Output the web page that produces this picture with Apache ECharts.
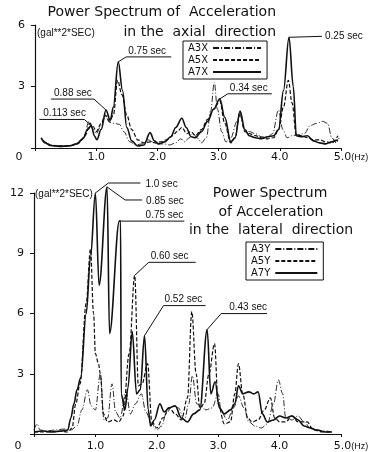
<!DOCTYPE html>
<html>
<head>
<meta charset="utf-8">
<script src="https://cdn.jsdelivr.net/npm/echarts@6/dist/echarts.min.js"></script>
<style>
  html, body { margin: 0; padding: 0; background: #fff; }
  #c { width: 373px; height: 452px; }
</style>
</head>
<body>
<div id="c"></div>
<script>
// ---- Axial direction (upper panel): frequency [Hz] and power [gal**2*SEC] ----
const freqA3X = [0.15,0.25,0.4,0.55,0.7,0.8,0.88,0.95,1.0,1.08,1.15,1.22,1.3,1.38,1.45,1.55,1.65,1.75,1.85,1.92,2.0,2.1,2.2,2.3,2.38,2.45,2.52,2.58,2.65,2.72,2.8,2.87,2.93,2.98,3.05,3.12,3.2,3.3,3.35,3.42,3.5,3.6,3.7,3.8,3.88,3.98,4.05,4.12,4.2,4.3,4.4,4.5,4.6,4.7,4.78,4.85,4.92,4.97];
const valA3X  = [0.35,0.15,0.1,0.1,0.2,0.5,1.3,0.9,0.7,1.1,1.55,1.25,1.2,1.15,0.8,0.3,0.15,0.2,0.4,0.3,0.2,0.2,0.15,0.25,0.45,0.3,0.5,0.7,0.5,0.25,0.5,1.8,3.2,1.9,0.8,0.3,0.5,1.3,1.6,0.9,0.8,0.7,0.55,0.5,0.7,1.85,0.9,0.5,0.6,0.65,0.7,1.1,1.2,1.3,1.2,0.5,0.25,0.5];

const freqA5X = [0.12,0.2,0.3,0.45,0.6,0.72,0.82,0.9,0.95,1.0,1.08,1.15,1.22,1.28,1.35,1.42,1.5,1.58,1.68,1.78,1.88,1.96,2.05,2.15,2.25,2.32,2.4,2.48,2.55,2.62,2.72,2.82,2.92,3.02,3.1,3.2,3.27,3.35,3.43,3.5,3.6,3.7,3.8,3.9,3.98,4.06,4.14,4.2,4.27,4.35,4.45,4.55,4.65,4.75,4.85,4.95];
const valA5X  = [0.4,0.2,0.12,0.1,0.12,0.25,0.6,1.2,1.05,0.8,1.2,1.6,1.3,1.6,3.3,2.6,1.6,0.9,0.4,0.25,0.3,0.25,0.3,0.4,0.6,0.8,1.0,0.7,0.8,0.6,0.9,1.4,1.9,2.3,1.2,0.25,0.5,1.75,0.8,0.7,0.6,0.5,0.45,0.5,0.9,2.0,3.3,2.2,0.6,0.6,0.5,0.4,0.4,0.3,0.25,0.6];

const freqA7X = [0.10,0.17,0.25,0.4,0.55,0.68,0.78,0.86,0.92,0.97,1.01,1.08,1.16,1.23,1.28,1.36,1.43,1.5,1.58,1.68,1.78,1.88,1.95,2.02,2.12,2.22,2.3,2.4,2.47,2.55,2.62,2.72,2.82,2.92,3.02,3.1,3.2,3.27,3.35,3.43,3.5,3.6,3.7,3.8,3.9,3.98,4.06,4.15,4.22,4.27,4.35,4.45,4.55,4.65,4.75,4.85,4.95];
const valA7X  = [0.5,0.25,0.12,0.08,0.1,0.2,0.45,0.9,1.1,0.6,0.4,0.9,1.85,1.35,2.0,4.2,2.8,1.0,0.35,0.1,0.15,0.75,0.35,0.2,0.3,0.55,1.0,1.45,1.0,0.55,0.5,0.8,1.3,1.9,2.4,1.5,0.3,0.5,1.8,0.9,0.6,0.5,0.45,0.55,0.6,0.9,2.8,5.4,3.0,0.6,0.55,0.6,0.35,0.25,0.2,0.3,0.4];

// ---- Lateral direction (lower panel) ----
const freqA3Y = [0.0,0.05,0.1,0.2,0.35,0.5,0.6,0.7,0.78,0.87,0.93,1.0,1.08,1.14,1.2,1.27,1.33,1.4,1.5,1.57,1.65,1.75,1.82,1.92,2.0,2.08,2.15,2.25,2.35,2.45,2.52,2.58,2.65,2.72,2.8,2.9,3.0,3.05,3.15,3.25,3.33,3.42,3.5,3.6,3.7,3.8,3.9,3.98,4.05,4.1,4.2,4.3,4.4,4.5,4.6,4.75,4.85];
const valA3Y  = [0.2,0.5,0.2,0.15,0.2,0.25,0.2,0.4,1.2,2.2,1.4,1.2,3.0,0.7,0.8,2.5,1.1,0.8,2.1,1.0,1.5,2.0,1.1,0.5,0.2,0.4,1.0,1.4,1.3,0.7,1.5,2.9,1.5,1.4,1.2,1.3,2.0,1.1,0.7,1.3,1.9,1.3,0.6,0.4,0.3,0.5,1.5,2.7,2.0,0.8,0.7,0.9,0.6,0.3,0.2,0.15,0.1];

const freqA5Y = [0.0,0.2,0.4,0.55,0.62,0.68,0.75,0.85,0.92,0.97,1.0,1.05,1.08,1.13,1.2,1.3,1.38,1.45,1.55,1.64,1.7,1.76,1.85,1.92,2.0,2.1,2.2,2.3,2.4,2.5,2.57,2.64,2.7,2.77,2.85,2.94,3.0,3.1,3.2,3.27,3.33,3.4,3.48,3.55,3.65,3.75,3.85,3.92,4.0,4.1,4.2,4.3,4.45,4.55,4.7,4.85];
const valA5Y  = [0.1,0.1,0.15,0.1,0.3,1.5,2.5,6.5,9.2,6.0,4.0,3.5,3.0,1.0,0.6,0.7,0.6,0.9,4.0,7.9,2.4,2.5,3.5,0.6,0.3,0.8,1.3,1.0,0.7,1.8,6.1,3.0,1.3,1.5,3.0,4.5,1.5,0.5,0.6,2.0,3.5,2.0,0.8,0.6,0.7,1.2,1.8,0.8,0.6,0.6,0.9,0.6,0.6,0.2,0.1,0.1];

const freqA7Y = [0.0,0.15,0.3,0.45,0.55,0.6,0.65,0.7,0.76,0.85,0.92,1.0,1.06,1.19,1.23,1.39,1.41,1.42,1.48,1.53,1.6,1.67,1.73,1.8,1.86,1.9,1.96,2.05,2.12,2.2,2.3,2.4,2.5,2.6,2.7,2.82,2.88,2.95,3.02,3.1,3.2,3.27,3.33,3.4,3.5,3.58,3.65,3.72,3.8,3.9,4.0,4.1,4.2,4.3,4.4,4.5,4.6,4.75,4.85];
const valA7Y  = [0.1,0.15,0.1,0.15,0.2,0.8,1.5,2.2,2.8,6.0,8.8,12.0,7.4,12.3,5.0,10.6,10.6,2.0,1.2,2.3,5.1,2.0,2.2,4.9,1.2,0.4,0.7,1.5,1.1,1.3,1.4,0.8,0.6,1.0,1.2,5.2,2.0,2.6,1.3,1.0,1.2,1.5,2.4,2.0,2.1,2.0,2.1,1.0,0.6,0.7,0.9,0.8,0.9,0.7,0.4,0.3,0.2,0.1,0.1];

// axis ticks
const freqTicks = [0, 1, 2, 3, 4, 5];
const axialMax = 6, lateralMax = 12, powerStep = 3;

const FONT = '"Liberation Sans", Arial, sans-serif';
const WIDE = '"DejaVu Sans", sans-serif';
const INK = '#111';

const pairs = (f, v) => f.map((x, i) => [x, v[i]]);
const peak = (f, v, at) => [at, v[f.indexOf(at)]];

const lineKinds = {
  A3: { type: [6, 2, 1, 2], width: 0.9 },
  A5: { type: [4, 2], width: 1.2 },
  A7: { type: 'solid', width: 1.6 }
};

function series(name, kind, f, v, g) {
  const k = lineKinds[kind];
  return {
    name, type: 'line', xAxisIndex: g, yAxisIndex: g,
    data: pairs(f, v), symbol: 'none', showSymbol: false,
    smooth: 0.35, smoothMonotone: 'x', clip: false, animation: false,
    itemStyle: { color: INK },
    lineStyle: { color: INK, width: k.width, type: k.type }
  };
}

function xAxis(g, margin) {
  return {
    type: 'value', gridIndex: g, min: 0, max: 5, interval: 1,
    axisLine: { lineStyle: { color: INK, width: 1.2 } },
    axisTick: { length: 3, lineStyle: { color: INK } },
    splitLine: { show: false },
    axisLabel: {
      margin, color: INK, fontSize: 11, fontFamily: WIDE,
      customValues: freqTicks,
      formatter: v => v === 0 ? '{z|0}' : v === 5 ? '{n|5.0}{u|(Hz)}' : v.toFixed(1),
      rich: {
        z: { padding: [0, 32, 0, 0], fontSize: 11, fontFamily: WIDE, color: INK },
        n: { padding: [0, 0, 0, 20], fontSize: 11, fontFamily: WIDE, color: INK },
        u: { fontSize: 9, fontFamily: FONT, color: INK }
      }
    }
  };
}

function yAxis(g, max) {
  return {
    type: 'value', gridIndex: g, min: 0, max, interval: powerStep,
    axisLine: { show: true, lineStyle: { color: INK, width: 1.2 } },
    axisTick: { show: true, length: 4, lineStyle: { color: INK } },
    splitLine: { show: false },
    axisLabel: { margin: 10, color: INK, fontSize: 11, fontFamily: WIDE,
                 formatter: v => v === 0 ? '' : String(v) }
  };
}

function legend(names, left, top, iconW, textW) {
  return {
    data: names, orient: 'vertical', left, top, align: 'right',
    itemWidth: iconW, itemHeight: 10, itemGap: 2,
    padding: [2, 5, 2, 5], borderColor: INK, borderWidth: 1,
    itemStyle: { opacity: 0, borderWidth: 0 },
    textStyle: { fontSize: 10, fontFamily: WIDE, color: INK, width: textW }
  };
}

const text = (t, x, y, size, align, family) => ({
  type: 'text', x, y, silent: true,
  style: { text: t, font: size + 'px ' + (family || FONT), fill: INK, textAlign: align, textVerticalAlign: 'middle' }
});

const labels = [
  text('Power Spectrum of  Acceleration', 276, 12, 14, 'right', WIDE),
  text('in the  axial  direction', 276, 32, 14, 'right', WIDE),
  text('(gal**2*SEC)', 37, 33, 10, 'left'),
  text('Power Spectrum', 270, 193, 14, 'center', WIDE),
  text('of Acceleration', 271, 212, 14, 'center', WIDE),
  text('in the  lateral  direction', 271, 230, 14, 'center', WIDE),
  text('(gal**2*SEC)', 35, 194, 10, 'left')
];

// peak call-outs: leader path offsets from the peak, text offset
const notes = [
  { g: 0, at: peak(freqA7X, valA7X, 1.36), path: [[0,0],[8,-5],[53,-5]], text: '0.75 sec', tx: 10, ty: -11, align: 'left' },
  { g: 0, at: peak(freqA7X, valA7X, 1.16), path: [[0,0],[-12,-11],[-55,-11]], text: '0.88 sec', tx: -52, ty: -17, align: 'left' },
  { g: 0, at: peak(freqA7X, valA7X, 0.92), path: [[0,0],[-7,-6],[-52,-6]], text: '0.113 sec', tx: -48, ty: -12, align: 'left' },
  { g: 0, at: peak(freqA7X, valA7X, 3.02), path: [[0,0],[8,-5],[52,-5]], text: '0.34 sec', tx: 10, ty: -11, align: 'left' },
  { g: 0, at: peak(freqA7X, valA7X, 4.15), path: [[0,0],[33,-1]], text: '0.25 sec', tx: 36, ty: -1, align: 'left' },
  { g: 1, at: peak(freqA7Y, valA7Y, 1.0), path: [[0,0],[13,-10],[45,-10]], text: '1.0 sec', tx: 50, ty: -9, align: 'left' },
  { g: 1, at: peak(freqA7Y, valA7Y, 1.19), path: [[0,0],[18,13],[35,13]], text: '0.85 sec', tx: 39, ty: 14, align: 'left' },
  { g: 1, at: peak(freqA7Y, valA7Y, 1.39), path: [[0,0],[65,0]], text: '0.75 sec', tx: 64, ty: -6, align: 'right' },
  { g: 1, at: peak(freqA5Y, valA5Y, 1.64), path: [[0,0],[14,-13],[61,-13]], text: '0.60 sec', tx: 16, ty: -19, align: 'left' },
  { g: 1, at: peak(freqA7Y, valA7Y, 1.8), path: [[0,0],[19,-30],[61,-30]], text: '0.52 sec', tx: 20, ty: -36, align: 'left' },
  { g: 1, at: peak(freqA7Y, valA7Y, 2.82), path: [[0,0],[14,-16],[60,-16]], text: '0.43 sec', tx: 22, ty: -22, align: 'left' }
];

const chart = echarts.init(document.getElementById('c'), null, { renderer: 'canvas' });

chart.setOption({
  animation: false,
  backgroundColor: '#fff',
  grid: [
    { left: 35, top: 25, width: 306, height: 123 },
    { left: 34, top: 193, width: 307, height: 243 }
  ],
  xAxis: [xAxis(0, 4), xAxis(1, 7)],
  yAxis: [yAxis(0, axialMax), yAxis(1, lateralMax)],
  legend: [
    legend(['A3X', 'A5X', 'A7X'], 183, 41, 48, 34),
    legend(['A3Y', 'A5Y', 'A7Y'], 246, 242, 42, 44)
  ],
  series: [
    series('A3X', 'A3', freqA3X, valA3X, 0),
    series('A5X', 'A5', freqA5X, valA5X, 0),
    series('A7X', 'A7', freqA7X, valA7X, 0),
    series('A3Y', 'A3', freqA3Y, valA3Y, 1),
    series('A5Y', 'A5', freqA5Y, valA5Y, 1),
    series('A7Y', 'A7', freqA7Y, valA7Y, 1)
  ]
});

const callouts = [];
notes.forEach(n => {
  const p = chart.convertToPixel({ gridIndex: n.g }, n.at);
  callouts.push({
    type: 'polyline', silent: true,
    shape: { points: n.path.map(d => [p[0] + d[0], p[1] + d[1]]) },
    style: { stroke: INK, lineWidth: 1, fill: null }
  });
  callouts.push(text(n.text, p[0] + n.tx, p[1] + n.ty, 10, n.align));
});

chart.setOption({ graphic: labels.concat(callouts) });
</script>
</body>
</html>
